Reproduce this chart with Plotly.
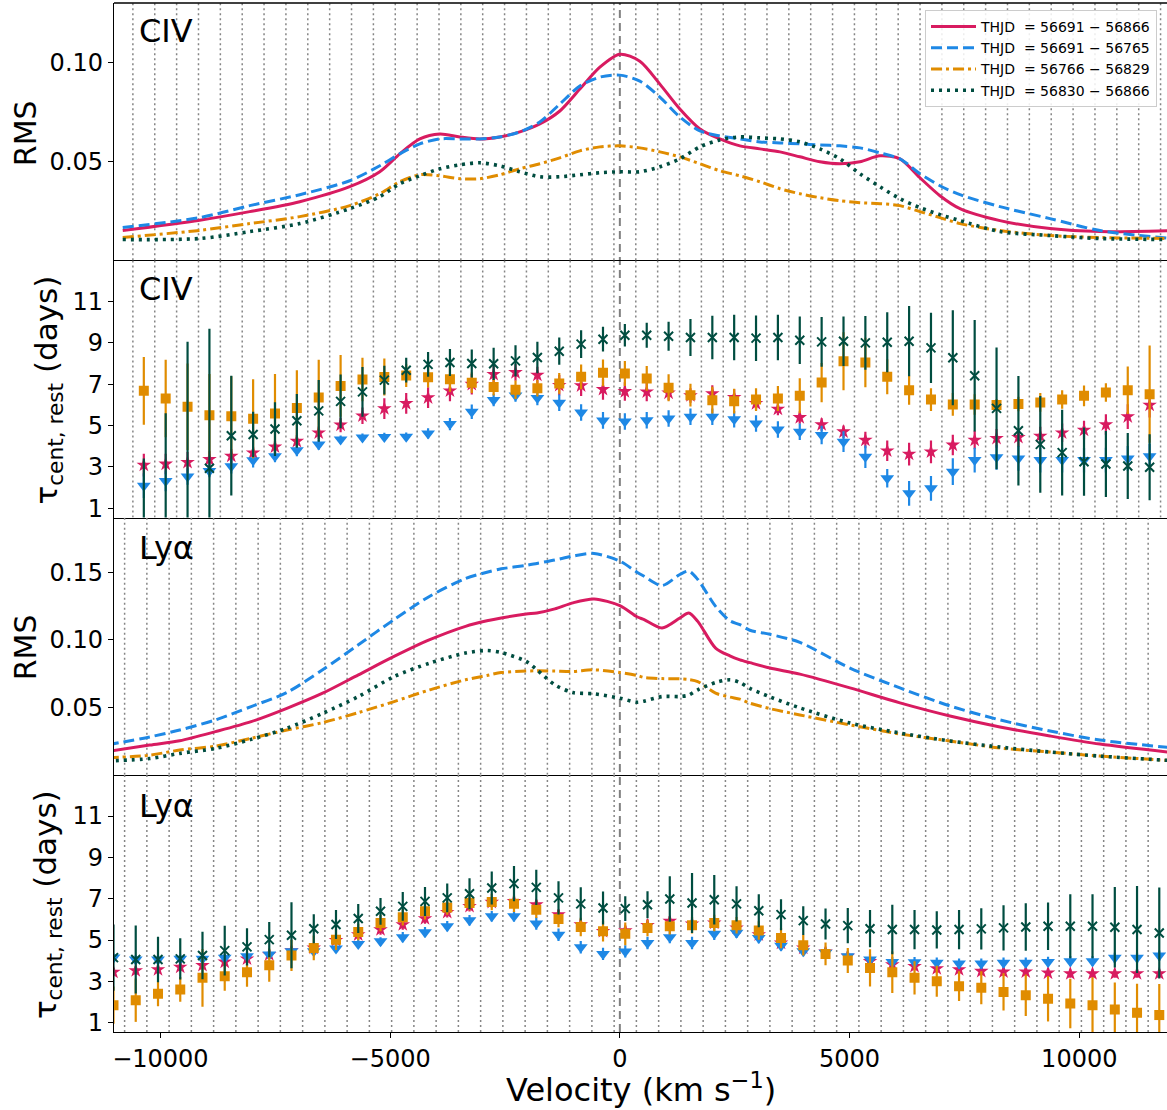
import plotly.graph_objects as go
from plotly.subplots import make_subplots

# ---------------- data ----------------
LEGEND_NAMES = ["THJD  = 56691 − 56866", "THJD  = 56691 − 56765",
                "THJD  = 56766 − 56829", "THJD  = 56830 − 56866"]

# CIV RMS spectra (velocity in km/s)
civ_rms_vel = [-10820, -9144, -8056, -6967, -5879, -5225, -4790, -4354, -3919, -3484,
               -3048, -2613, -2177, -1742, -1306, -871, -435, 0, 435, 871,
               1306, 1742, 2177, 2613, 3048, 3484, 3919, 4354, 4790, 5225,
               5661, 6096, 6532, 6967, 7403, 8273, 9362, 10450, 12000]
civ_rms_all = [0.0155, 0.0207, 0.025, 0.030, 0.0375, 0.045, 0.054, 0.0615, 0.064, 0.0625,
               0.0615, 0.0625, 0.065, 0.069, 0.0755, 0.0865, 0.0975, 0.104, 0.1005, 0.089,
               0.0765, 0.0665, 0.0615, 0.058, 0.0565, 0.055, 0.0525, 0.050, 0.049, 0.050,
               0.053, 0.0515, 0.042, 0.033, 0.0265, 0.0205, 0.0165, 0.015, 0.0155]
civ_rms_p1 = [0.0170, 0.022, 0.028, 0.0335, 0.0405, 0.048, 0.054, 0.059, 0.0615, 0.0615,
              0.0615, 0.0625, 0.065, 0.070, 0.079, 0.088, 0.0925, 0.0935, 0.0905, 0.0825,
              0.0725, 0.0655, 0.063, 0.0615, 0.060, 0.0595, 0.059, 0.0585, 0.058, 0.057,
              0.0545, 0.0515, 0.044, 0.038, 0.0335, 0.0275, 0.0215, 0.0155, 0.0115]
civ_rms_p2 = [0.012, 0.0156, 0.019, 0.0225, 0.028, 0.034, 0.040, 0.0435, 0.043, 0.0415,
              0.0415, 0.0435, 0.0465, 0.049, 0.052, 0.0555, 0.0575, 0.058, 0.057, 0.055,
              0.0525, 0.049, 0.0455, 0.043, 0.040, 0.0365, 0.034, 0.032, 0.0305, 0.0295,
              0.029, 0.028, 0.025, 0.022, 0.019, 0.0155, 0.013, 0.012, 0.0115]
civ_rms_p3 = [0.011, 0.0115, 0.015, 0.019, 0.0265, 0.0325, 0.039, 0.043, 0.0465, 0.0485,
              0.0495, 0.048, 0.045, 0.0425, 0.0425, 0.0435, 0.0445, 0.045, 0.045, 0.0475,
              0.0515, 0.0575, 0.061, 0.0625, 0.062, 0.0615, 0.060, 0.0565, 0.0515, 0.044,
              0.0375, 0.0315, 0.027, 0.0235, 0.0205, 0.015, 0.013, 0.0115, 0.011]

# Lya RMS spectra
lya_rms_vel = [-11150, -10233, -9580, -8802, -8025, -7248, -6469, -5691, -4914, -4137,
               -3359, -2893, -2582, -2038, -1805, -1415, -1026, -560, 0, 373,
               529, 917, 1306, 1500, 1696, 2084, 2395, 2613, 2830, 3266,
               3919, 5008, 6096, 7185, 8273, 9362, 10450, 12000]
lya_rms_all = [0.0172, 0.022, 0.0252, 0.0319, 0.0393, 0.0492, 0.0604, 0.074, 0.0876, 0.100,
               0.1099, 0.1140, 0.1161, 0.119, 0.1198, 0.1228, 0.1273, 0.1302, 0.1253, 0.1170,
               0.1149, 0.1087, 0.1161, 0.1198, 0.1136, 0.0938, 0.0880, 0.0851, 0.083, 0.079,
               0.0745, 0.0643, 0.0532, 0.0435, 0.0354, 0.0287, 0.0227, 0.0165]
lya_rms_p1 = [0.0222, 0.028, 0.0331, 0.0406, 0.0505, 0.0609, 0.0777, 0.0963, 0.1149, 0.1322,
              0.1453, 0.150, 0.1525, 0.155, 0.1565, 0.159, 0.1619, 0.1639, 0.1582, 0.150,
              0.147, 0.1401, 0.1483, 0.1508, 0.1446, 0.1247, 0.1140, 0.1111, 0.107, 0.104,
              0.098, 0.079, 0.0643, 0.051, 0.0406, 0.0324, 0.0257, 0.0200]
lya_rms_p2 = [0.0125, 0.0145, 0.0183, 0.0212, 0.027, 0.0331, 0.0386, 0.046, 0.0542, 0.0629,
              0.0703, 0.0735, 0.0757, 0.0768, 0.077, 0.0768, 0.0765, 0.0777, 0.0757, 0.0735,
              0.072, 0.0712, 0.071, 0.0705, 0.069, 0.0604, 0.0575, 0.056, 0.053, 0.049,
              0.0443, 0.0369, 0.0302, 0.025, 0.0198, 0.0168, 0.0138, 0.0105]
lya_rms_p3 = [0.0102, 0.012, 0.0158, 0.0195, 0.0262, 0.0344, 0.0455, 0.0579, 0.0727, 0.0827,
              0.0901, 0.092, 0.0905, 0.0839, 0.0777, 0.0666, 0.0609, 0.0599, 0.0567, 0.0537,
              0.0545, 0.0579, 0.0579, 0.059, 0.0629, 0.0683, 0.0703, 0.0683, 0.064, 0.0577,
              0.0495, 0.0383, 0.0309, 0.025, 0.0205, 0.0168, 0.0138, 0.0105]

# CIV velocity-resolved lags (bin centres, km/s)
civ_vel = [-10361, -9885, -9409, -8933, -8457, -7982, -7506, -7030, -6554, -6078,
           -5602, -5126, -4650, -4174, -3698, -3223, -2747, -2271, -1795, -1319,
           -843, -367, 109, 585, 1061, 1537, 2013, 2488, 2964, 3440,
           3916, 4392, 4868, 5344, 5820, 6296, 6772, 7247, 7723, 8199,
           8675, 9151, 9627, 10103, 10579, 11055, 11531]
civ_lag_all = [3.09, 3.14, 3.22, 3.36, 3.52, 3.68, 3.97, 4.24, 4.65, 5.03,
               5.47, 5.82, 6.07, 6.35, 6.68, 7.00, 7.48, 7.57, 7.44, 6.95,
               6.93, 6.75, 6.65, 6.63, 6.58, 6.45, 6.55, 6.36, 6.07, 5.80,
               5.39, 5.05, 4.70, 4.30, 3.78, 3.62, 3.73, 4.06, 4.30, 4.38,
               4.43, 4.49, 4.65, 4.78, 5.05, 5.43, 5.99]
civ_err_all = [0.55, 0.5, 0.5, 0.4, 0.35, 0.3, 0.3, 0.3, 0.3, 0.35,
               0.4, 0.5, 0.5, 0.5, 0.5, 0.5, 0.4, 0.4, 0.4, 0.5,
               0.5, 0.5, 0.45, 0.45, 0.35, 0.35, 0.4, 0.4, 0.3, 0.3,
               0.3, 0.3, 0.3, 0.4, 0.5, 0.55, 0.55, 0.5, 0.45, 0.45,
               0.45, 0.45, 0.45, 0.45, 0.5, 0.6, 0.6]
civ_lag_p1 = [2.09, 2.32, 2.53, 2.80, 3.03, 3.32, 3.52, 3.81, 4.08, 4.32,
              4.42, 4.45, 4.46, 4.62, 5.07, 5.67, 6.24, 6.45, 6.33, 6.10,
              5.63, 5.25, 5.20, 5.26, 5.34, 5.43, 5.43, 5.30, 5.10, 4.81,
              4.70, 4.54, 4.22, 3.49, 2.45, 1.72, 1.96, 2.77, 3.33, 3.46,
              3.41, 3.33, 3.33, 3.33, 3.33, 3.41, 3.52]
civ_err_p1 = [0.6, 0.5, 0.4, 0.3, 0.35, 0.35, 0.3, 0.3, 0.25, 0.2,
              0.2, 0.2, 0.2, 0.25, 0.3, 0.35, 0.3, 0.3, 0.35, 0.4,
              0.4, 0.4, 0.4, 0.4, 0.4, 0.4, 0.4, 0.4, 0.4, 0.4,
              0.4, 0.45, 0.5, 0.55, 0.45, 0.6, 0.6, 0.65, 0.6, 0.6,
              0.6, 0.6, 0.6, 0.6, 0.6, 0.6, 0.6]
civ_lag_p2 = [6.68, 6.31, 5.91, 5.50, 5.45, 5.33, 5.58, 5.85, 6.36, 6.92,
              7.23, 7.35, 7.42, 7.34, 7.24, 7.07, 6.86, 6.73, 6.80, 7.04,
              7.36, 7.55, 7.52, 7.28, 6.83, 6.47, 6.23, 6.18, 6.26, 6.31,
              6.44, 7.08, 8.11, 8.05, 7.36, 6.71, 6.26, 6.02, 6.02, 5.99,
              6.04, 6.12, 6.26, 6.44, 6.60, 6.71, 6.52]
civ_err_p2 = [1.64, 1.88, 2.09, 2.0, 1.94, 1.91, 1.91, 1.83, 1.83, 1.5,
              1.05, 0.89, 0.55, 0.5, 0.6, 0.5, 0.4, 0.45, 0.4, 0.5,
              0.6, 0.65, 0.6, 0.6, 0.65, 0.55, 0.65, 0.6, 0.55, 0.6,
              0.85, 0.95, 1.4, 1.2, 0.85, 0.7, 0.55, 0.55, 0.5, 0.3,
              0.35, 0.45, 0.45, 0.5, 0.45, 1.15, 2.35]
civ_lag_p3 = [0.0, 0.2, 0.3, 2.93, 4.51, 4.57, 4.83, 5.23, 5.71, 6.17,
              6.63, 7.20, 7.68, 7.96, 8.05, 8.00, 7.99, 8.13, 8.29, 8.60,
              8.94, 9.18, 9.37, 9.37, 9.32, 9.26, 9.26, 9.26, 9.23, 9.26,
              9.13, 9.05, 9.08, 9.00, 9.03, 9.08, 8.76, 8.28, 7.41, 5.83,
              4.75, 4.09, 3.69, 3.25, 3.14, 3.04, 2.98]
civ_err_p3 = [3.4, 5.4, 8.75, 6.76, 2.9, 1.1, 1.3, 1.3, 1.5, 1.3,
              1.2, 0.7, 0.6, 0.6, 0.65, 0.68, 0.78, 0.76, 0.76, 0.66,
              0.67, 0.6, 0.55, 0.6, 0.7, 0.9, 1.05, 1.1, 1.1, 1.1,
              1.15, 1.2, 1.2, 1.3, 1.45, 1.7, 1.7, 2.3, 2.7, 2.95,
              2.65, 2.34, 2.07, 1.65, 1.6, 1.6, 1.6]

# Lya velocity-resolved lags
lya_vel = [-11021, -10537, -10052, -9568, -9084, -8600, -8115, -7631, -7147, -6662,
           -6178, -5694, -5209, -4725, -4241, -3757, -3272, -2788, -2304, -1819,
           -1335, -851, -366, 118, 602, 1087, 1571, 2055, 2540, 3024,
           3508, 3992, 4477, 4961, 5445, 5930, 6414, 6898, 7383, 7867,
           8351, 8835, 9320, 9804, 10288, 10773, 11257, 11741]
lya_lag_all = [3.45, 3.52, 3.57, 3.69, 3.78, 3.94, 4.09, 4.30, 4.49, 4.62,
               4.99, 5.26, 5.51, 5.75, 6.04, 6.34, 6.63, 6.83, 6.87, 6.71,
               6.23, 5.75, 5.42, 5.45, 5.71, 5.91, 5.78, 5.83, 5.59, 5.26,
               4.86, 4.62, 4.43, 4.22, 3.97, 3.81, 3.73, 3.62, 3.57, 3.49,
               3.46, 3.46, 3.41, 3.38, 3.38, 3.38, 3.38, 3.38]
lya_err_all = [0.2, 0.2, 0.2, 0.2, 0.2, 0.2, 0.2, 0.2, 0.2, 0.2,
               0.2, 0.25, 0.25, 0.25, 0.25, 0.25, 0.25, 0.25, 0.25, 0.25,
               0.25, 0.25, 0.25, 0.25, 0.3, 0.25, 0.25, 0.25, 0.25, 0.25,
               0.25, 0.2, 0.2, 0.2, 0.2, 0.2, 0.2, 0.2, 0.2, 0.2,
               0.2, 0.2, 0.2, 0.2, 0.2, 0.2, 0.2, 0.2]
lya_lag_p1 = [4.15, 4.06, 4.06, 4.09, 4.10, 4.14, 4.22, 4.30, 4.46, 4.46,
              4.59, 4.81, 4.94, 5.14, 5.38, 5.67, 5.96, 6.15, 6.15, 5.80,
              5.26, 4.65, 4.33, 4.45, 4.86, 5.14, 4.86, 5.30, 5.35, 5.10,
              4.73, 4.46, 4.38, 4.22, 4.06, 3.94, 3.93, 3.90, 3.86, 3.86,
              3.90, 3.90, 3.94, 3.98, 3.98, 4.14, 4.14, 4.25]
lya_err_p1 = [0.2, 0.2, 0.2, 0.2, 0.2, 0.2, 0.2, 0.2, 0.2, 0.2,
              0.2, 0.2, 0.2, 0.25, 0.25, 0.25, 0.25, 0.25, 0.25, 0.3,
              0.3, 0.3, 0.3, 0.3, 0.3, 0.3, 0.3, 0.3, 0.25, 0.25,
              0.25, 0.25, 0.25, 0.25, 0.25, 0.25, 0.25, 0.25, 0.25, 0.25,
              0.25, 0.25, 0.25, 0.25, 0.25, 0.25, 0.25, 0.25]
lya_lag_p2 = [1.85, 2.09, 2.40, 2.61, 3.17, 3.25, 3.44, 3.78, 4.25, 4.62,
              5.02, 5.39, 5.83, 6.10, 6.39, 6.58, 6.79, 6.84, 6.76, 6.47,
              6.02, 5.63, 5.43, 5.30, 5.58, 5.67, 5.72, 5.83, 5.72, 5.46,
              5.10, 4.75, 4.33, 4.01, 3.65, 3.44, 3.17, 3.01, 2.77, 2.69,
              2.49, 2.33, 2.16, 1.93, 1.85, 1.64, 1.48, 1.37]
lya_err_p2 = [0.9, 1.05, 0.6, 0.6, 1.4, 0.7, 0.7, 0.8, 0.75, 0.6,
              0.5, 0.4, 0.4, 0.4, 0.4, 0.35, 0.35, 0.4, 0.4, 0.4,
              0.4, 0.45, 0.5, 0.55, 0.4, 0.4, 0.4, 0.4, 0.4, 0.45,
              0.5, 0.5, 0.55, 0.6, 0.9, 1.0, 0.8, 0.75, 0.72, 0.8,
              0.9, 1.0, 1.1, 1.2, 1.35, 1.3, 1.4, 1.5]
lya_lag_p3 = [4.15, 4.06, 4.06, 4.09, 4.25, 4.49, 4.67, 5.02, 5.23, 5.55,
              5.75, 6.04, 6.39, 6.63, 6.87, 7.04, 7.24, 7.52, 7.73, 7.55,
              7.04, 6.75, 6.55, 6.52, 6.71, 6.99, 6.79, 6.95, 6.75, 6.42,
              6.23, 5.94, 5.78, 5.70, 5.55, 5.51, 5.51, 5.49, 5.51, 5.54,
              5.59, 5.63, 5.67, 5.67, 5.67, 5.62, 5.51, 5.34]
lya_err_p3 = [1.6, 1.65, 1.1, 1.0, 1.15, 1.2, 0.9, 0.85, 1.6, 0.7,
              0.7, 0.7, 0.65, 0.7, 0.7, 0.7, 0.75, 0.8, 0.85, 0.85,
              0.8, 0.8, 0.8, 0.6, 0.65, 1.1, 1.45, 1.2, 0.85, 0.8,
              0.75, 0.7, 0.75, 0.85, 0.9, 1.2, 0.95, 0.9, 0.95, 1.0,
              1.1, 1.15, 1.15, 1.55, 1.55, 1.95, 2.1, 2.2]

X_TICKS = [-10000, -5000, 0, 5000, 10000]
X_TICK_TEXT = ["−10000", "−5000", "0", "5000", "10000"]
RMS1_TICKS = [0.05, 0.10]
RMS3_TICKS = [0.05, 0.10, 0.15]
LAG_TICKS = [1, 3, 5, 7, 9, 11]

# ---------------- styling ----------------
RED = "#D81B60"
BLUE = "#1E88E5"
ORANGE = "#E08C00"
GREEN = "#004D40"
COLORS = [RED, BLUE, ORANGE, GREEN]
DASHES = ["solid", "11px,5px", "11px,4px,3px,4px", "3px,5px"]
WIDTHS = [3, 3, 3, 3.6]
FONT = "DejaVu Sans"

XR = [-11010, 11909]
YR = {1: [0.0006, 0.1297], 2: [0.55, 13.0], 3: [0.0, 0.1905], 4: [0.55, 13.0]}

fig = make_subplots(rows=4, cols=1, shared_xaxes=True, vertical_spacing=0)


def edges(centres):
    mids = [(a + b) / 2 for a, b in zip(centres[:-1], centres[1:])]
    first = centres[0] - (centres[1] - centres[0]) / 2
    last = centres[-1] + (centres[-1] - centres[-2]) / 2
    return [first] + mids + [last]


def add_grid(row, centres):
    xs, ys = [], []
    lo, hi = YR[row]
    for e in edges(centres):
        xs += [e, e, None]
        ys += [lo, hi, None]
    fig.add_trace(go.Scatter(x=xs, y=ys, mode="lines", hoverinfo="skip", showlegend=False,
                             line=dict(color="#858585", width=1.5, dash="2px,3px")),
                  row=row, col=1)


add_grid(1, civ_vel)
add_grid(2, civ_vel)
add_grid(3, lya_vel)
add_grid(4, lya_vel)

# RMS curves
for k, ys in enumerate([civ_rms_all, civ_rms_p1, civ_rms_p2, civ_rms_p3]):
    fig.add_trace(go.Scatter(x=civ_rms_vel, y=ys, mode="lines", name=LEGEND_NAMES[k],
                             line=dict(color=COLORS[k], width=WIDTHS[k], dash=DASHES[k],
                                       shape="spline", smoothing=0.8),
                             showlegend=True, legendrank=k + 1), row=1, col=1)
for k, ys in enumerate([lya_rms_all, lya_rms_p1, lya_rms_p2, lya_rms_p3]):
    fig.add_trace(go.Scatter(x=lya_rms_vel, y=ys, mode="lines", name=LEGEND_NAMES[k],
                             line=dict(color=COLORS[k], width=WIDTHS[k], dash=DASHES[k],
                                       shape="spline", smoothing=0.8),
                             showlegend=False), row=3, col=1)

MARKERS = [dict(symbol="star", size=11),
           dict(symbol="triangle-down", size=12),
           dict(symbol="square", size=10),
           dict(symbol="x-thin", size=9)]


def add_lags(row, vel, series):
    for k, (vals, errs) in enumerate(series):
        m = dict(MARKERS[k])
        m["color"] = COLORS[k]
        if m["symbol"] == "x-thin":
            m["line"] = dict(color=COLORS[k], width=2)
        else:
            m["line"] = dict(width=0)
        fig.add_trace(go.Scatter(x=vel, y=vals, mode="markers", marker=m, showlegend=False,
                                 error_y=dict(type="data", array=errs, visible=True,
                                              thickness=2.2, width=0, color=COLORS[k])),
                      row=row, col=1)


add_lags(2, civ_vel, [(civ_lag_all, civ_err_all), (civ_lag_p1, civ_err_p1),
                      (civ_lag_p2, civ_err_p2), (civ_lag_p3, civ_err_p3)])
add_lags(4, lya_vel, [(lya_lag_all, lya_err_all), (lya_lag_p1, lya_err_p1),
                      (lya_lag_p2, lya_err_p2), (lya_lag_p3, lya_err_p3)])

# axes
for r in range(1, 5):
    fig.update_xaxes(range=XR, showline=True, linecolor="black", linewidth=1.3,
                     showgrid=False, zeroline=False, tickvals=X_TICKS, ticktext=X_TICK_TEXT,
                     ticks="outside" if r == 4 else "", ticklen=5, tickwidth=1.3,
                     tickcolor="black", showticklabels=(r == 4),
                     tickfont=dict(family=FONT, size=24, color="black"), row=r, col=1)
ytick = {1: RMS1_TICKS, 2: LAG_TICKS, 3: RMS3_TICKS, 4: LAG_TICKS}
yfmt = {1: ".2f", 2: "d", 3: ".2f", 4: "d"}
for r in range(1, 5):
    fig.update_yaxes(range=YR[r], autorange=False, showline=True, linecolor="black",
                     linewidth=1.3, showgrid=False, zeroline=False, tickvals=ytick[r],
                     tickformat=yfmt[r], ticks="outside", ticklen=5, tickwidth=1.3,
                     tickcolor="black", tickfont=dict(family=FONT, size=24, color="black"),
                     row=r, col=1)

# frame top line and zero dashed line
fig.add_shape(type="line", xref="paper", yref="paper", x0=0, x1=1, y0=1, y1=1,
              line=dict(color="black", width=1.3))
fig.add_shape(type="line", xref="x", yref="paper", x0=0, x1=0, y0=0, y1=1,
              line=dict(color="#808080", width=2, dash="8px,5px"), layer="below")

H = 1029.0


def py(pix):
    return (1032 - pix) / H


def px(pix):
    return (pix - 114) / 1053.0


ann = []
for txt, yc in [("CIV", 31), ("CIV", 289.2), ("Lyα", 547.5), ("Lyα", 805.5)]:
    ann.append(dict(text=txt, x=px(137), y=py(yc), xref="paper", yref="paper",
                    xanchor="left", yanchor="middle", showarrow=False,
                    font=dict(family=FONT, size=32, color="black")))
for txt, yc, xc, fs in [("RMS", 133.5, 25.7, 30), ("RMS", 647.5, 25.8, 30),
                        ("τ<sub>cent, rest</sub> (days)", 390, 47.5, 31),
                        ("τ<sub>cent, rest</sub> (days)", 904.6, 47.5, 31)]:
    ann.append(dict(text=txt, x=px(xc), y=py(yc), xref="paper", yref="paper",
                    xanchor="center", yanchor="middle", textangle=-90, showarrow=False,
                    font=dict(family=FONT, size=fs, color="black")))
ann.append(dict(text="Velocity (km s<sup>−1</sup>)", x=0.5, y=py(1088), xref="paper",
                yref="paper", xanchor="center", yanchor="middle", showarrow=False,
                font=dict(family=FONT, size=32, color="black")))

fig.update_layout(
    width=1167, height=1110,
    margin=dict(l=114, r=0, t=3, b=78),
    paper_bgcolor="white", plot_bgcolor="rgba(0,0,0,0)",
    font=dict(family=FONT, color="black"),
    annotations=ann,
    legend=dict(x=px(925), y=py(10), xanchor="left", yanchor="top",
                bgcolor="rgba(255,255,255,0.85)", bordercolor="#cccccc", borderwidth=1,
                font=dict(family=FONT, size=14, color="black"), itemwidth=45,
                tracegroupgap=0),
)

fig.write_html("out.html", config={"displayModeBar": False},
               post_script="document.body.style.margin='0px';"
                           "document.body.style.overflow='hidden';")
